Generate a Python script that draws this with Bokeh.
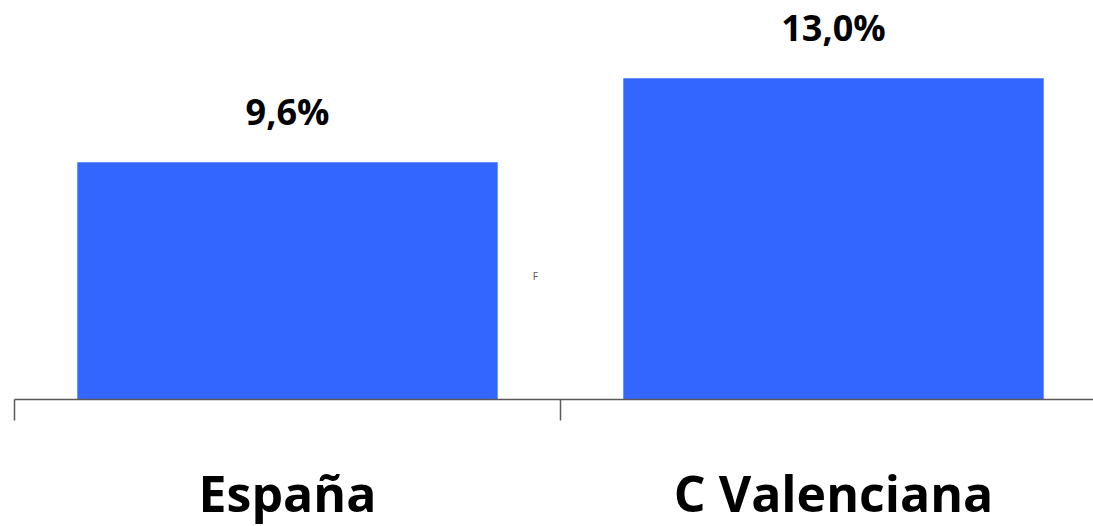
from bokeh.plotting import figure
from bokeh.models import ColumnDataSource, Range1d, LinearAxis, FixedTicker, LabelSet
from bokeh.embed import file_html
from bokeh.resources import INLINE
from bokeh.core.properties import value

# Data
categories = ["España", "C Valenciana"]
rates = [9.6, 13.0]

BAR_COLOR = "#3366FF"
AXIS_COLOR = "#595959"
FONT = "Open Sans"

n = len(categories)
centers = [i + 0.5 for i in range(n)]
labels = [f"{v:.1f}".replace(".", ",") + "%" for v in rates]

source = ColumnDataSource(dict(x=centers, top=rates, label=labels, cat=categories))

p = figure(
    width=1093, height=526,
    frame_width=1079, frame_height=399,
    x_range=Range1d(0, 1079 / 546), y_range=Range1d(0, 16.15),
    output_backend="svg", toolbar_location=None,
    x_axis_location=None, y_axis_location=None,
    min_border_left=14, min_border_right=0, min_border_top=0, min_border_bottom=0,
)
p.outline_line_color = None
p.xgrid.visible = False
p.ygrid.visible = False
p.background_fill_color = "white"
p.border_fill_color = "white"

p.vbar(x="x", top="top", width=0.77, bottom=0, source=source,
       fill_color=BAR_COLOR, line_color=None)

# value labels above the bars
p.add_layout(LabelSet(x="x", y="top", text="label", source=source,
                      y_offset=37, text_align="center", text_baseline="alphabetic",
                      text_font=value(FONT), text_font_style="bold",
                      text_font_size="36px", text_color="black"))

# small stray mark in the middle of the plot
p.text(x=[0.954], y=[4.98], text=["F"], text_font=value(FONT),
       text_font_size="10px", text_color="#555555",
       text_align="center", text_baseline="middle")

# category axis: line and boundary ticks
edge_axis = LinearAxis(ticker=FixedTicker(ticks=list(range(n + 1))),
                       major_label_overrides={t: " " for t in range(n + 1)})
edge_axis.axis_line_color = AXIS_COLOR
edge_axis.axis_line_width = 1.5
edge_axis.major_tick_line_color = AXIS_COLOR
edge_axis.major_tick_line_width = 1.5
edge_axis.major_tick_in = 0
edge_axis.major_tick_out = 21
edge_axis.minor_tick_line_color = None
edge_axis.major_label_text_font_size = "1px"
edge_axis.major_label_standoff = 0
p.add_layout(edge_axis, "below")

# category names centred under each bar
name_axis = LinearAxis(ticker=FixedTicker(ticks=centers),
                       major_label_overrides={c: name for c, name in zip(centers, categories)})
name_axis.axis_line_color = None
name_axis.major_tick_line_color = None
name_axis.minor_tick_line_color = None
name_axis.major_tick_in = 0
name_axis.major_tick_out = 0
name_axis.major_label_standoff = 34
name_axis.major_label_text_font = FONT
name_axis.major_label_text_font_style = "bold"
name_axis.major_label_text_font_size = "50px"
name_axis.major_label_text_color = "black"
p.add_layout(name_axis, "below")

open("out.html", "w").write(file_html(p, INLINE))
